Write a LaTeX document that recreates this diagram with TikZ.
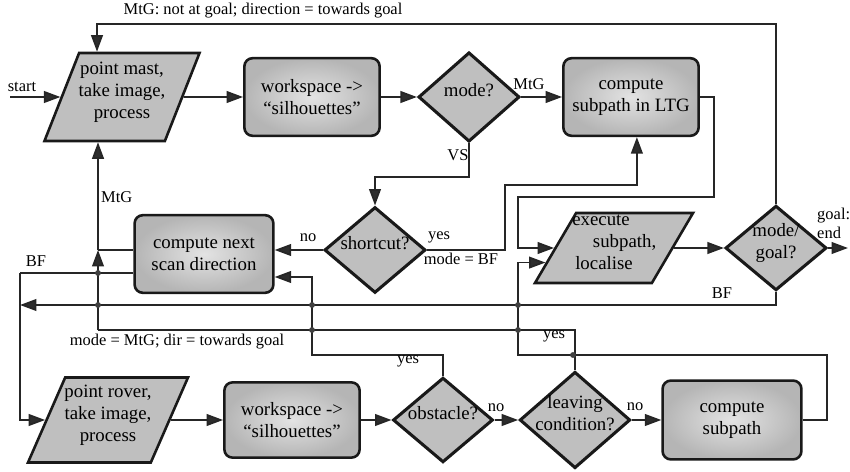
\documentclass[tikz,border=0pt]{standalone}
\usepackage{fontspec}
\setmainfont{Liberation Serif}
\usetikzlibrary{shapes.geometric,arrows.meta,calc}

\newcommand{\dtext}[1]{\smash{\makebox[1pt]{\begin{tabular}{@{}c@{}}#1\end{tabular}}}\rule{0pt}{1pt}}

\tikzset{
  box/.style={rectangle, rounded corners=7pt, draw=black!90, line width=2.2pt,
    shading=radial, inner color=gray!22, outer color=gray!58,
    minimum width=115pt, minimum height=66pt, inner sep=0pt, align=center,
    font=\fontsize{16}{18.7}\selectfont},
  iobox/.style={trapezium, trapezium stretches=true, draw=black!90, line width=2.2pt,
    fill=gray!50, inner sep=0pt, font=\fontsize{16}{18.7}\selectfont},
  decision/.style={diamond, draw=black!90, line width=2.6pt, fill=gray!50,
    inner sep=0pt, minimum width=86pt, minimum height=73pt,
    font=\fontsize{16}{18.7}\selectfont},
  line/.style={line width=1.5pt, draw=black!85},
  arrow/.style={line, -{Triangle[length=14pt,width=10pt,fill=gray!35!black]}},
  lbl/.style={font=\fontsize{14}{16}\selectfont, inner sep=0pt}
}

\begin{document}
\begin{tikzpicture}[x=0.85pt, y=-0.85pt]
  \useasboundingbox (0,0) rectangle (850,472);

  % top row: mast scan
  \node[iobox, trapezium left angle=68, trapezium right angle=112,
    minimum width=131.8pt, minimum height=74.8pt] (mast) at (122,97)
    {\dtext{point mast,\\take image,\\process}};
  \node[box] (ws1) at (312,97) {workspace ->\\“silhouettes”};
  \node[decision, minimum height=76pt] (mode) at (469,97) {\dtext{mode?}};
  \node[box] (ltg) at (631,97) {compute\\subpath in LTG};

  % middle row
  \node[box, minimum width=118pt] (scan) at (204,254) {compute next\\scan direction};
  \node[decision] (short) at (375,250) {\dtext{shortcut?}};
  \node[iobox, trapezium left angle=61.5, trapezium right angle=118.5,
    minimum width=134.3pt, minimum height=59.5pt] (exec) at (614,248)
    {\dtext{execute\hspace*{22pt}\\\hspace*{18pt}subpath,\\localise\hspace*{17pt}}};
  \node[decision, minimum height=72pt] (mg) at (776,248) {\dtext{mode/\\goal?}};

  % bottom row: rover scan
  \node[iobox, trapezium left angle=66.5, trapezium right angle=113.5,
    minimum width=136pt, minimum height=72.3pt] (rover) at (108,420)
    {\dtext{point rover,\\take image,\\process}};
  \node[box, minimum height=64pt] (ws2) at (292,420) {workspace ->\\“silhouettes”};
  \node[decision, minimum width=85pt, minimum height=72pt] (obst) at (443,420) {\dtext{obstacle?}};
  \node[decision, minimum width=94pt, minimum height=82pt] (leave) at (575,420) {\dtext{leaving\\condition?}};
  \node[box, minimum width=118pt, minimum height=67pt] (sub) at (732,420) {compute\\subpath};

  % bends and free ends
  \coordinate (start) at (10,97);
  \coordinate (vs) at (469,177);
  \coordinate (sy) at (505,185);
  \coordinate (lr) at (714,197);
  \coordinate (lx) at (518,197);
  \coordinate (tl) at (97,24);
  \coordinate (bfl) at (20,305);
  \coordinate (bfc) at (20,273);
  \coordinate (m1) at (98,330);
  \coordinate (m2) at (98,250);
  \coordinate (oy) at (312,355);
  \coordinate (sr) at (827,355);
  \coordinate (lb) at (518,355);
  \coordinate (goal) at (848,248);

  % connectors
  \draw[arrow] (start) -- (mast);
  \draw[arrow] (mast) -- (ws1);
  \draw[arrow] (ws1) -- (mode);
  \draw[arrow] (mode) -- (ltg);
  \draw[arrow] (mode.south) -- (vs) -| (short.north);
  \draw[arrow] (short.east) -| (sy) -| ([xshift=5pt]ltg.south);
  \draw[arrow] (short.west) -- (short.west -| scan.east);
  \draw[arrow] (ltg.east) -| (lr) -- (lx) |- (exec.west);
  \draw[arrow] (exec) -- (mg);
  \draw[arrow] (mg) -- (goal);
  \draw[arrow] (mg.north) |- (tl) -- (tl |- mast.north);
  \draw[arrow] (mg.south) |- (bfl);
  \draw[line] (scan.west |- m2) -- (m2);
  \draw[line] (scan.west |- bfc) -- (bfc);
  \draw[arrow] (bfc) |- (rover);
  \draw[arrow] (m1) -- (m2);
  \draw[arrow] (m2) -- (m2 |- mast.south);
  \draw[arrow] (rover) -- (ws2);
  \draw[arrow] (ws2) -- (obst);
  \draw[arrow] (obst) -- (leave);
  \draw[arrow] (leave) -- (sub);
  \draw[arrow] (obst.north) |- (oy) |- ($(scan.east)+(0,23)$);
  \draw[line] (leave.north) |- (m1);
  \draw[arrow] (sub.east) -| (sr) -- (lb) |- (exec.192);

  % junctions
  \foreach \p in {(98,273), (98,305), (312,305), (518,305), (312,330), (518,330), (573,355)}
    \fill[black!75] \p circle (2.5pt);

  % labels
  \node[lbl] (lstart) at (22,87) {start};
  \node[lbl] (ltop) at (263,11) {MtG: not at goal; direction = towards goal};
  \node[lbl] (lmtg) at (529,84) {MtG};
  \node[lbl] (lvs) at (458,155) {VS};
  \node[lbl] (lyes) at (439,237) {yes};
  \node[lbl] (lbf) at (461,259) {mode = BF};
  \node[lbl] (lno) at (308,238) {no};
  \node[lbl, align=left, anchor=west] (lgoal) at (817,223) {goal:\\end};
  \node[lbl] (lbfr) at (722,293) {BF};
  \node[lbl] (lbfl) at (36,261) {BF};
  \node[lbl, anchor=west] (lmtgup) at (101,197) {MtG};
  \node[lbl] (lmode) at (177,342) {mode = MtG; dir = towards goal};
  \node[lbl] (lyesob) at (408,361) {yes};
  \node[lbl] (lyeslv) at (554,336) {yes};
  \node[lbl] (lnoob) at (496,408) {no};
  \node[lbl] (lnolv) at (635,407) {no};
\end{tikzpicture}
\end{document}
